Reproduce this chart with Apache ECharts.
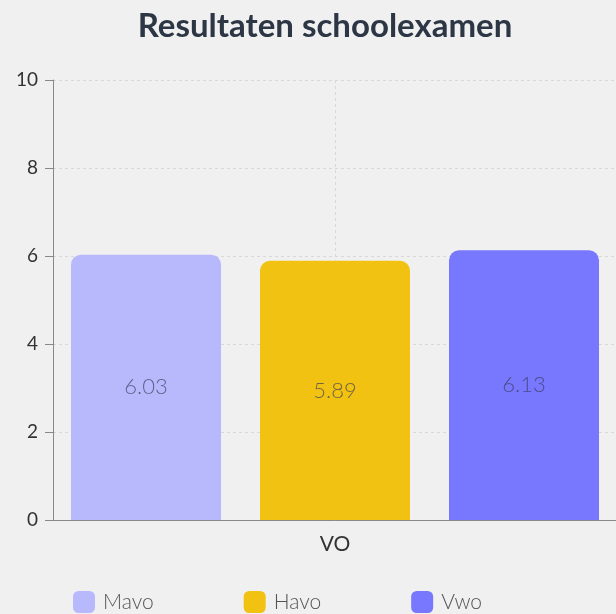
<!DOCTYPE html>
<html>
<head>
<meta charset="utf-8">
<script src="https://cdn.jsdelivr.net/npm/echarts@6/dist/echarts.min.js"></script>
<style>
  html, body { margin: 0; padding: 0; background: #f0f0f0; }
  #chart { width: 616px; height: 614px; }
</style>
</head>
<body>
<div id="chart"></div>
<script>
// categories: the second one is empty, it only stretches the axis past the right edge
const categories = ['VO', ''];
const seriesNames = ['Mavo', 'Havo', 'Vwo'];
const mavo = [6.03, null];
const havo = [5.89, null];
const vwo = [6.13, null];
const colors = ['#b8b9fd', '#f2c213', '#7878fe'];
const yTicks = [0, 2, 4, 6, 8, 10];

const chart = echarts.init(document.getElementById('chart'));

function barSeries(name, data, color) {
  return {
    name: name,
    type: 'bar',
    data: data,
    barWidth: 150,
    barGap: '26%',
    itemStyle: { color: color, borderRadius: [10, 10, 0, 0] },
    label: {
      show: true,
      position: 'inside',
      fontFamily: 'Lato',
      fontWeight: 300,
      fontSize: 22,
      color: 'rgba(55, 55, 85, 0.68)',
      formatter: p => p.value.toFixed(2)
    }
  };
}

chart.setOption({
  backgroundColor: '#f0f0f0',
  animation: false,
  title: {
    text: 'Resultaten schoolexamen',
    left: 320,
    textAlign: 'center',
    top: 5,
    textStyle: { fontFamily: 'Lato', fontSize: 33, fontWeight: 'bold', color: '#2c3644' }
  },
  legend: {
    data: seriesNames,
    left: 73,
    top: 591,
    padding: 0,
    itemWidth: 22,
    itemHeight: 22,
    itemGap: 90,
    icon: 'roundRect',
    textStyle: { fontFamily: 'Lato', fontWeight: 300, fontSize: 21, color: '#555', padding: [0, 0, 0, 3] }
  },
  grid: {
    left: 53, top: 80, bottom: 94, width: 1128,
    containLabel: false,
    outerBoundsMode: 'none'
  },
  xAxis: {
    type: 'category',
    data: categories,
    axisLine: { lineStyle: { color: '#888' } },
    axisTick: { alignWithLabel: true, length: 8, lineStyle: { color: '#888' } },
    axisLabel: { fontFamily: 'Lato', fontSize: 21, color: '#333', margin: 14 },
    splitLine: { show: true, alignWithLabel: true, lineStyle: { color: '#d8d8d8', type: [3, 3] } }
  },
  yAxis: {
    type: 'value',
    min: yTicks[0],
    max: yTicks[yTicks.length - 1],
    interval: 2,
    axisLine: { show: true, lineStyle: { color: '#888' } },
    axisTick: { show: true, length: 8, lineStyle: { color: '#888' } },
    axisLabel: { fontFamily: 'Lato', fontSize: 19, color: '#333', margin: 15 },
    splitLine: { lineStyle: { color: '#d8d8d8', type: [3, 3] } }
  },
  series: [
    barSeries(seriesNames[0], mavo, colors[0]),
    barSeries(seriesNames[1], havo, colors[1]),
    barSeries(seriesNames[2], vwo, colors[2])
  ]
});
</script>
</body>
</html>
